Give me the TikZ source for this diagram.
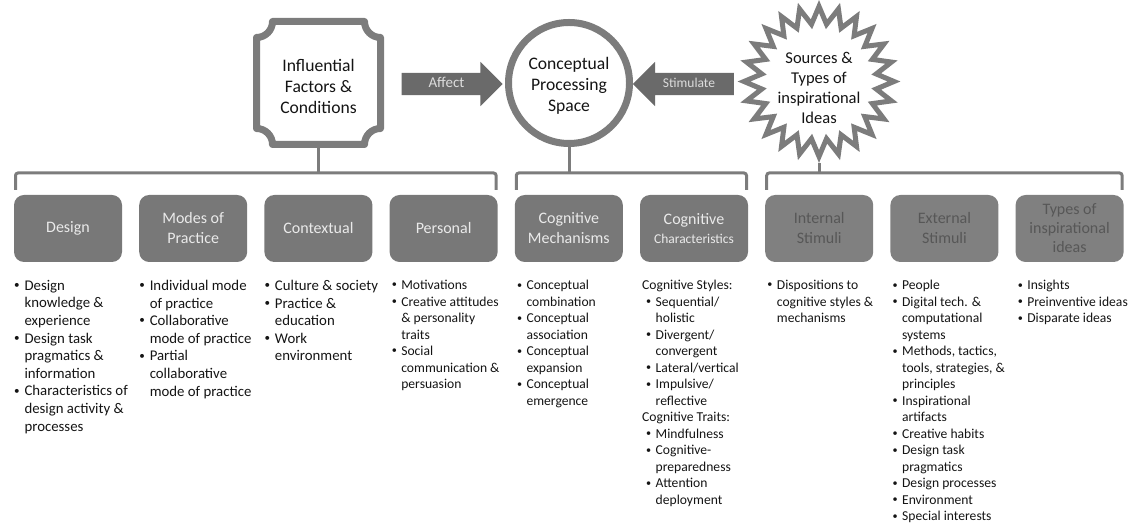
\documentclass[tikz,border=0pt]{standalone}
\usepackage{fontspec}
\setmainfont{Carlito}
\usetikzlibrary{calc,shapes.geometric,shapes.arrows}

\definecolor{rimgray}{HTML}{7C7C7C}
\definecolor{boxgray}{HTML}{787878}
\definecolor{boxtext}{HTML}{EAEAEA}
\definecolor{stimgray}{HTML}{808080}
\definecolor{stimtext}{HTML}{575757}
\definecolor{arrowgray}{HTML}{6A6A6A}
\definecolor{arrowtext}{HTML}{DCDCDC}
\definecolor{ink}{HTML}{141414}

% bullet and continuation indent for the lists
\newcommand\itm{\makebox[0.7em][l]{\raisebox{0.12em}{\scalebox{0.75}{•}}}}
\newcommand\cnt{\hspace*{0.7em}}

\begin{document}
\begin{tikzpicture}[x=1pt,y=1pt,
  rim/.style={draw=rimgray, line width=#1, fill=white},
  toptext/.style={align=center, text=ink, inner sep=0pt,
    font=\fontsize{17.6}{21}\selectfont},
  bracketline/.style={draw=rimgray, line width=3pt, rounded corners=2.5pt},
  blockarrow/.style={single arrow, fill=arrowgray, text=arrowtext,
    single arrow head extend=11pt, minimum height=101pt,
    text height=9pt, text depth=2pt, inner xsep=2pt, inner ysep=5.5pt,
    outer sep=0pt},
  catbox/.style={rectangle, rounded corners=10pt, fill=boxgray, text=boxtext,
    minimum width=108pt, minimum height=67pt, inner sep=0pt, outer sep=0pt,
    align=center, font=\fontsize{16}{20}\selectfont},
  stimbox/.style={catbox, fill=stimgray, text=stimtext},
  biglist/.style={anchor=north west, align=left, inner sep=0pt, text=ink,
    font=\fontsize{14.8}{17.6}\selectfont},
  smalllist/.style={biglist, font=\fontsize{13.6}{16.5}\selectfont},
]
\useasboundingbox (0,0) rectangle (1139,524);

% ---- top row: factors, processing space, sources ----
\node[minimum width=131pt, minimum height=130pt, inner sep=0pt, outer sep=0pt]
  (ifc) at (318.5,441) {};
\draw[rim=7pt, line join=round]
  ($(ifc.north west)+(19.5,-3.5)$) -- ($(ifc.north east)+(-19.5,-3.5)$)
  arc[start angle=180, end angle=270, radius=16]
  -- ($(ifc.south east)+(-3.5,19.5)$)
  arc[start angle=90, end angle=180, radius=16]
  -- ($(ifc.south west)+(19.5,3.5)$)
  arc[start angle=0, end angle=90, radius=16]
  -- ($(ifc.north west)+(3.5,-19.5)$)
  arc[start angle=-90, end angle=0, radius=16] -- cycle;
\node[toptext] (ifctext) at ([yshift=-3]ifc.center)
  {Influential\\Factors \&\\Conditions};

\node[circle, rim=7pt, minimum size=121pt, inner sep=0pt] (cps) at (569,441) {};
\node[toptext] (cpstext) at ([yshift=-3]cps.center)
  {Conceptual\\Processing\\Space};

\node[star, star points=24, star point ratio=1.3, rim=5pt,
  minimum size=150pt, inner sep=0pt] (src) at (819,442.5) {};
\node[toptext, font=\fontsize{16.5}{20}\selectfont] (srctext)
  at ([yshift=-6]src.center) {Sources \&\\Types of\\inspirational\\Ideas};

\node[blockarrow, font=\fontsize{15}{18}\selectfont] (affect) at (446.5,440) {Affect};
\node[blockarrow, shape border rotate=180, font=\fontsize{13.5}{16}\selectfont]
  (stim) at (689,440) {Stimulate};

% ---- category boxes ----
\node[catbox] (b0) at (68,295.5) {Design};
\node[catbox] (b1) at (193.2,295.5) {Modes of\\Practice};
\node[catbox] (b2) at (318.4,295.5) {Contextual};
\node[catbox] (b3) at (443.6,295.5) {Personal};
\node[catbox] (b4) at (568.8,295.5) {Cognitive\\Mechanisms};
\node[catbox] (b5) at (694,295.5)
  {Cognitive\\[-1pt]{\fontsize{13.5}{16}\selectfont Characteristics}};
\node[stimbox] (b6) at (819.2,295.5) {Internal\\Stimuli};
\node[stimbox] (b7) at (944.4,295.5) {External\\Stimuli};
\node[stimbox, font=\fontsize{16}{19}\selectfont] (b8) at (1069.6,295.5)
  {Types of\\inspirational\\ideas};

% ---- brackets joining each group to its box ----
\coordinate (k1) at ([shift={(-1.5,22)}]b3.north east);
\coordinate (k2) at ([shift={(-1.5,22)}]b5.north east);
\coordinate (k3) at ([shift={(-1.5,22)}]b8.north east);
\draw[bracketline] ([shift={(1.5,5)}]b0.north west) |- (k1)
  -- ([shift={(-1.5,5)}]b3.north east);
\draw[bracketline] ([shift={(1.5,5)}]b4.north west) |- (k2)
  -- ([shift={(-1.5,5)}]b5.north east);
\draw[bracketline] ([shift={(1.5,5)}]b6.north west) |- (k3)
  -- ([shift={(-1.5,5)}]b8.north east);
\draw[bracketline] (ifc.south) -- (ifc.south |- k1);
\draw[bracketline] (cps.south) -- (cps.south |- k2);
\draw[bracketline] (src.south) -- (src.south |- k3);

% ---- lists under the boxes ----
\node[biglist] (l0) at ([shift={(0,-18)}]b0.south west)
  {\itm Design\\\cnt knowledge \&\\\cnt experience\\
   \itm Design task\\\cnt pragmatics \&\\\cnt information\\
   \itm Characteristics of\\\cnt design activity \&\\\cnt processes};
\node[biglist] (l1) at ([shift={(0,-18)}]b1.south west)
  {\itm Individual mode\\\cnt of practice\\
   \itm Collaborative\\\cnt mode of practice\\
   \itm Partial\\\cnt collaborative\\\cnt mode of practice};
\node[biglist] (l2) at ([shift={(0,-18)}]b2.south west)
  {\itm Culture \& society\\
   \itm Practice \&\\\cnt education\\
   \itm Work\\\cnt environment};
\node[smalllist] (l3) at ([shift={(2,-18)}]b3.south west)
  {\itm Motivations\\
   \itm Creative attitudes\\\cnt \& personality\\\cnt traits\\
   \itm Social\\\cnt communication \&\\\cnt persuasion};
\node[smalllist] (l4) at ([shift={(2,-18)}]b4.south west)
  {\itm Conceptual\\\cnt combination\\
   \itm Conceptual\\\cnt association\\
   \itm Conceptual\\\cnt expansion\\
   \itm Conceptual\\\cnt emergence};
\node[smalllist] (l5) at ([shift={(2,-18)}]b5.south west)
  {Cognitive Styles:\\
   \hspace*{4pt}\itm Sequential/\\\hspace*{4pt}\cnt holistic\\
   \hspace*{4pt}\itm Divergent/\\\hspace*{4pt}\cnt convergent\\
   \hspace*{4pt}\itm Lateral/vertical\\
   \hspace*{4pt}\itm Impulsive/\\\hspace*{4pt}\cnt reflective\\
   Cognitive Traits:\\
   \hspace*{4pt}\itm Mindfulness\\
   \hspace*{4pt}\itm Cognitive-\\\hspace*{4pt}\cnt preparedness\\
   \hspace*{4pt}\itm Attention\\\hspace*{4pt}\cnt deployment};
\node[smalllist] (l6) at ([shift={(2,-18)}]b6.south west)
  {\itm Dispositions to\\\cnt cognitive styles \&\\\cnt mechanisms};
\node[smalllist] (l7) at ([shift={(2,-18)}]b7.south west)
  {\itm People\\
   \itm Digital tech. \&\\\cnt computational\\\cnt systems\\
   \itm Methods, tactics,\\\cnt tools, strategies, \&\\\cnt principles\\
   \itm Inspirational\\\cnt artifacts\\
   \itm Creative habits\\
   \itm Design task\\\cnt pragmatics\\
   \itm Design processes\\
   \itm Environment\\
   \itm Special interests};
\node[smalllist] (l8) at ([shift={(2,-18)}]b8.south west)
  {\itm Insights\\
   \itm Preinventive ideas\\
   \itm Disparate ideas};
\end{tikzpicture}
\end{document}
